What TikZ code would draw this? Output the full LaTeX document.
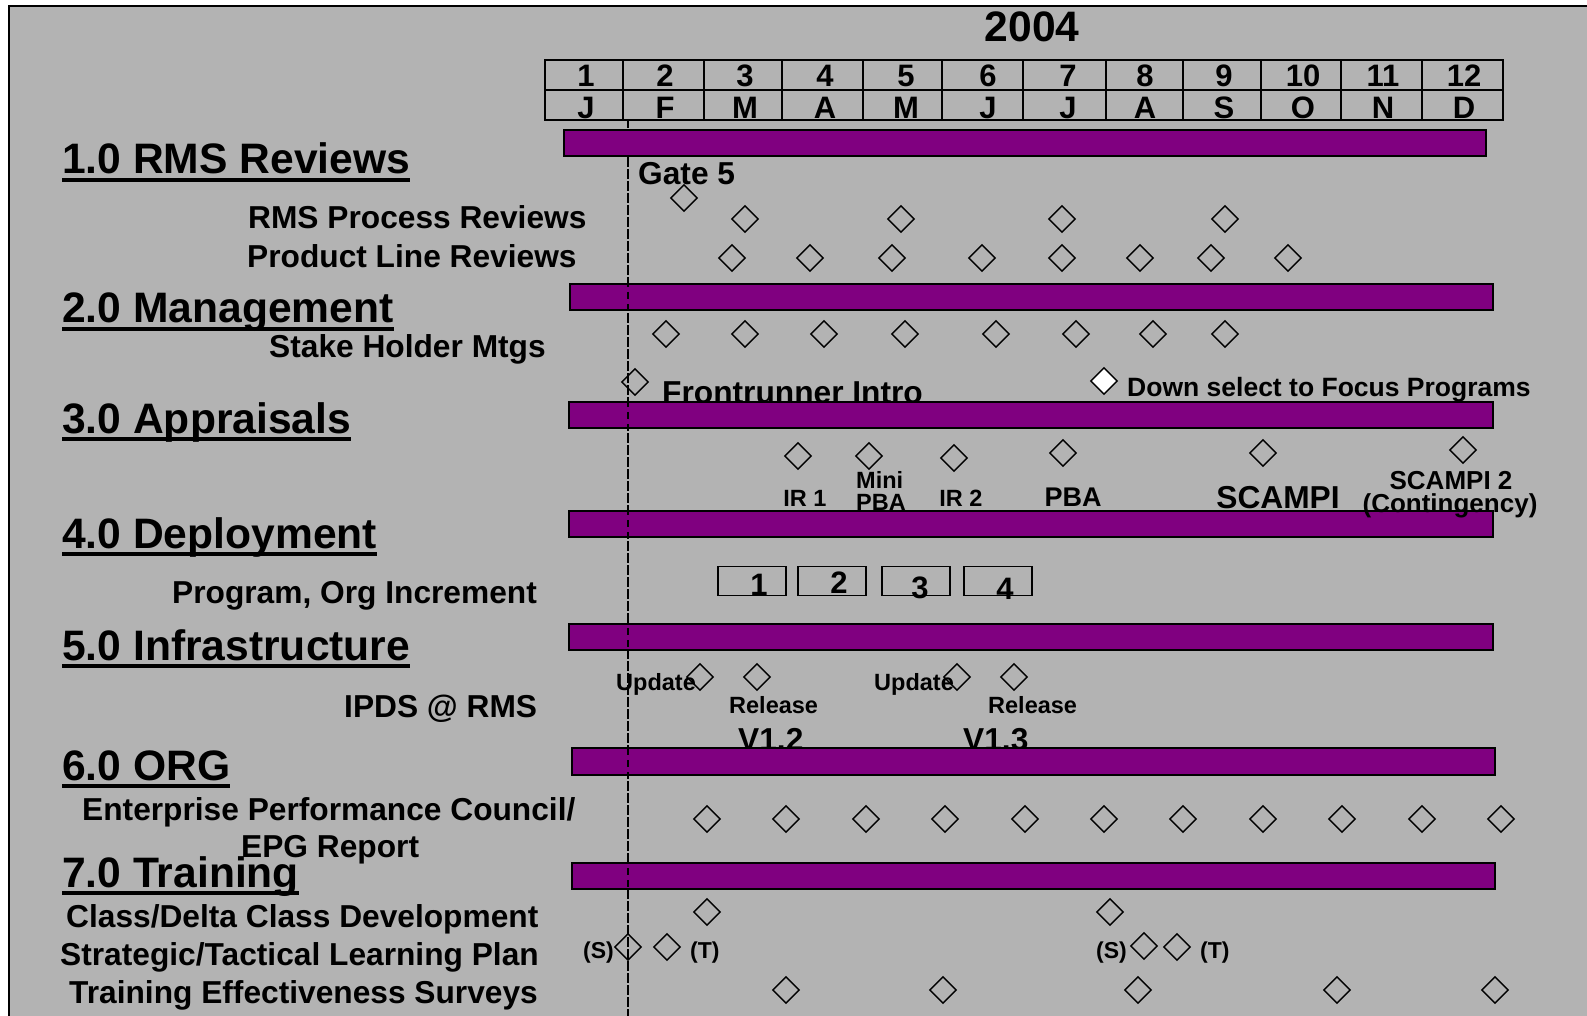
\documentclass[tikz,border=0pt]{standalone}
\usepackage{fontspec}
\setmainfont{Liberation Sans}
\usetikzlibrary{shapes.geometric}
\definecolor{bggray}{RGB}{179,179,179}
\definecolor{barpurple}{RGB}{128,0,128}
\newcommand\myfs[1]{\fontsize{#1pt}{#1pt}\selectfont\bfseries}
\begin{document}
\begin{tikzpicture}[x=1pt,y=-1pt,
  txt/.style={inner sep=0pt, anchor=base west, font=\myfs{31.7}},
  ctxt/.style={inner sep=0pt, anchor=base, font=\myfs{31.7}},
  head/.style={inner sep=0pt, anchor=base west, font=\myfs{42.6}},
  small/.style={inner sep=0pt, anchor=base west, font=\myfs{23.5}},
  csmall/.style={inner sep=0pt, anchor=base, font=\myfs{23.5}},
  uline/.style={line width=3.5pt},
  gantt/.style={draw=black, line width=2pt, fill=barpurple},
  dia/.style={diamond, draw=black, line width=1.4pt, minimum width=26.7pt, minimum height=26.7pt, inner sep=0pt, aspect=1},
  grid/.style={line width=2pt},
  incbox/.style={draw=black, line width=1.6pt, minimum width=68pt, minimum height=29pt, inner sep=0pt},
  dashline/.style={line width=1.5pt, dash pattern=on 7pt off 5pt}
]
\useasboundingbox (0,0) rectangle (1587,1016);
\fill[white] (0,0) rectangle (1587,1016);
\draw[line width=2.5pt, fill=bggray] (9,6) rectangle (1600,1030);

% year and month table
\node[inner sep=0pt, anchor=base, font=\myfs{42.6}] (year) at (1032,42) {2004};
\draw[grid] (545,60) rectangle (1503,120);
\draw[grid] (545,90) -- (1503,90);
\foreach \c in {623,704,782,863,942,1023,1106,1183,1261,1341,1422}
  \draw[grid] (\c,60) -- (\c,120);
\foreach \x/\n/\m in {586/1/J,665/2/F,745/3/M,825/4/A,906/5/M,988/6/J,1068/7/J,1145/8/A,1224/9/S,1303/10/O,1383/11/N,1464/12/D}{
  \node[inner sep=0pt, anchor=base, font=\myfs{31}] (num\n) at (\x,87) {\n};
  \node[inner sep=0pt, anchor=base, font=\myfs{31}] (mon\n) at (\x,119) {\m};
}

% headings
\node[head] (h1) at (62,174) {1.0 RMS Reviews};
\node[head] (h2) at (62,323) {2.0 Management};
\node[head] (h3) at (62,433) {3.0 Appraisals};
\node[head] (h4) at (62,548) {4.0 Deployment};
\node[head] (h5) at (62,660) {5.0 Infrastructure};
\node[head] (h6) at (62,780) {6.0 ORG};
\node[head] (h7) at (62,887) {7.0 Training};
\foreach \h in {h1,h2,h3,h4,h5,h6,h7}
  \draw[uline] ([yshift=-6pt]\h.base west) -- ([yshift=-6pt]\h.base east);

% sub labels
\node[txt] (l1) at (248,229) {RMS Process Reviews};
\node[txt] (l2) at (247,268) {Product Line Reviews};
\node[txt] (l3) at (269,357) {Stake Holder Mtgs};
\node[txt] (l4) at (172,603) {Program, Org Increment};
\node[txt] (l5) at (344,717) {IPDS @ RMS};
\node[txt] (l6) at (82,820) {Enterprise Performance Council/};
\node[txt] (l7) at (241,857) {EPG Report};
\node[txt] (l8) at (66,927) {Class/Delta Class Development};
\node[txt] (l9) at (60,965) {Strategic/Tactical Learning Plan};
\node[txt] (l10) at (69,1003) {Training Effectiveness Surveys};

% milestone labels
\node[txt] (gate) at (638,185) {Gate 5};
\node[txt] (front) at (662,403) {Frontrunner Intro};
\node[inner sep=0pt, anchor=base west, font=\myfs{26.5}] (down) at (1127,396) {Down select to Focus Programs};
\node[csmall] (ir1) at (805,506) {IR 1};
\node[small] (mini) at (856,488) {Mini};
\node[small] (minipba) at (856,510) {PBA};
\node[csmall] (ir2) at (961,506) {IR 2};
\node[inner sep=0pt, anchor=base, font=\myfs{27}] (pba) at (1073,506) {PBA};
\node[ctxt] (scampi) at (1278,508) {SCAMPI};
\node[inner sep=0pt, anchor=base, font=\myfs{26}] (scampi2) at (1451,489) {SCAMPI 2};
\node[small] (upd1) at (616,690) {Update};
\node[small] (upd2) at (874,690) {Update};
\node[small] (rel1) at (729,713) {Release};
\node[small] (rel2) at (988,713) {Release};
\node[txt] (v12) at (738,750) {V1.2};
\node[txt] (v13) at (963,750) {V1.3};
\node[inner sep=0pt, anchor=base west, font=\myfs{23}] (s1) at (583,958) {(S)};
\node[inner sep=0pt, anchor=base west, font=\myfs{23}] (t1) at (690,958) {(T)};
\node[inner sep=0pt, anchor=base west, font=\myfs{23}] (s2) at (1096,958) {(S)};
\node[inner sep=0pt, anchor=base west, font=\myfs{23}] (t2) at (1200,958) {(T)};

% bar 1 (dashed line hidden behind it)
\coordinate (dtop) at (628,121);
\coordinate (dbot) at (628,1016);
\draw[dashline] (dtop) -- (dbot);
\draw[gantt] (564,130) rectangle (1486,156);
% other bars
\draw[gantt] (570,284) rectangle (1493,310);
\draw[gantt] (569,402) rectangle (1493,428);
\draw[gantt] (569,511) rectangle (1493,537);
\draw[gantt] (569,624) rectangle (1493,650);
\draw[gantt] (572,748) rectangle (1495,775);
\draw[gantt] (572,863) rectangle (1495,889);
\coordinate (dmid) at (628,160);
\draw[dashline] (dmid) -- (dbot);

\node[inner sep=0pt, anchor=base, font=\myfs{26}] (conting) at (1450,512) {(Contingency)};

% increment boxes
\node[incbox] (b1) at (752,581) {};
\node[incbox] (b2) at (832,581) {};
\node[incbox] (b3) at (916,581) {};
\node[incbox] (b4) at (998,581) {};
\node[ctxt, font=\myfs{31}] (n1) at (759,595) {1};
\node[ctxt, font=\myfs{31}] (n2) at (839,593) {2};
\node[ctxt, font=\myfs{31}] (n3) at (920,598) {3};
\node[ctxt, font=\myfs{31}] (n4) at (1005,599) {4};

% diamonds
\node[dia] (dg5) at (684,198) {};
\foreach \x [count=\i] in {745,901,1062,1225}
  \node[dia] (dp\i) at (\x,219) {};
\foreach \x [count=\i] in {732,810,892,982,1062,1140,1211,1288}
  \node[dia] (dl\i) at (\x,258) {};
\foreach \x [count=\i] in {666,745,824,905,996,1076,1153,1225}
  \node[dia] (ds\i) at (\x,334) {};
\node[dia] (dfr) at (635,382) {};
\node[dia, fill=white] (ddown) at (1104,381) {};
\node[dia] (da1) at (798,456) {};
\node[dia] (da2) at (869,456) {};
\node[dia] (da3) at (954,458) {};
\node[dia] (da4) at (1063,453) {};
\node[dia] (da5) at (1263,453) {};
\node[dia] (da6) at (1463,450) {};
\node[dia] (di1) at (700,677) {};
\node[dia] (di2) at (757,677) {};
\node[dia] (di3) at (957,677) {};
\node[dia] (di4) at (1014,677) {};
\foreach \x [count=\i] in {707,786,866,945,1025,1104,1183,1263,1342,1422,1501}
  \node[dia] (do\i) at (\x,819) {};
\node[dia] (dc1) at (707,912) {};
\node[dia] (dc2) at (1110,912) {};
\node[dia] (dt1) at (628,947) {};
\node[dia] (dt2) at (667,947) {};
\node[dia] (dt3) at (1144,946) {};
\node[dia] (dt4) at (1177,947) {};
\foreach \x [count=\i] in {786,943,1138,1337,1495}
  \node[dia] (de\i) at (\x,990) {};
\end{tikzpicture}
\end{document}
